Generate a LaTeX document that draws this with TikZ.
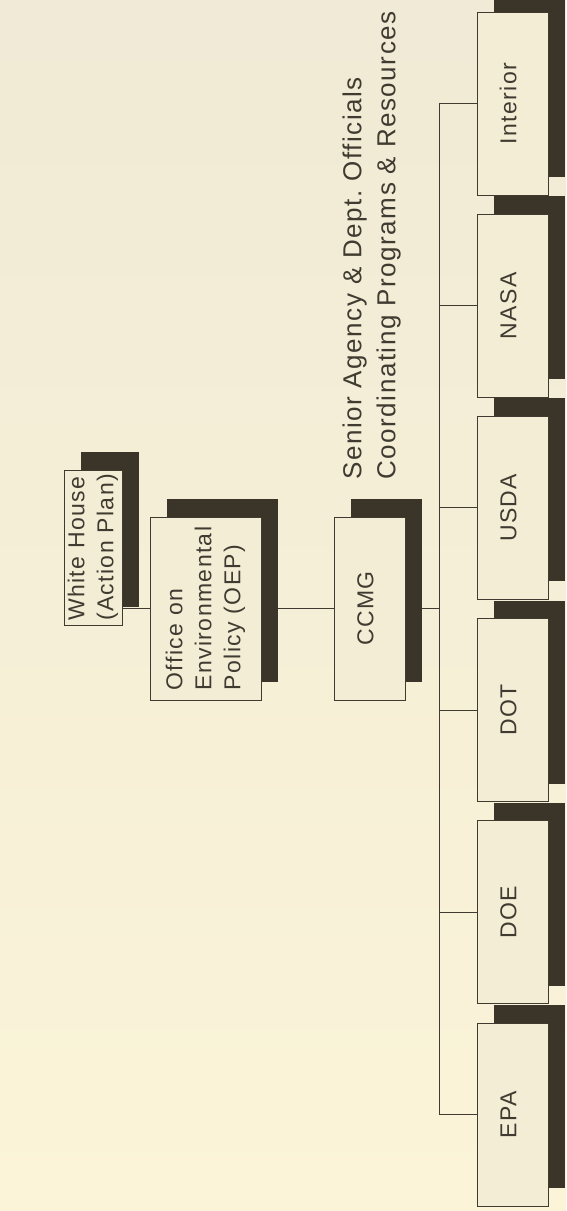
\documentclass[tikz,border=0pt]{standalone}
\usepackage{graphicx}
\usepackage{fontspec}
\setmainfont{Liberation Sans}[LetterSpace=6]
\usetikzlibrary{shadows,backgrounds}
\definecolor{paper}{HTML}{F4EDD6}
\definecolor{papertop}{HTML}{F0EAD6}
\definecolor{paperbottom}{HTML}{FBF4D8}
\definecolor{ink}{HTML}{3F3B31}
\definecolor{shade}{HTML}{3A3429}
% rotated label, nudged a little to the left of the box centre
\newcommand{\turned}[1]{\rotatebox{90}{\begin{tabular}{@{}l@{}}#1\end{tabular}\rule[-12pt]{0pt}{0pt}}}
\tikzset{
  unit/.style={draw=ink,line width=1pt,fill=paper,text=ink,inner sep=0pt,
    minimum width=71pt,minimum height=183pt,font=\fontsize{23}{29}\selectfont,
    drop shadow={shadow xshift=17pt,shadow yshift=18pt,fill=shade,opacity=1}},
  link/.style={draw=ink,line width=1pt}
}
\begin{document}
\begin{tikzpicture}[x=1pt,y=-1pt]
\useasboundingbox (0,0) rectangle (566,1211);
% upper chain
\node[unit,minimum width=54pt,minimum height=155pt] (wh) at (93,547.5)
  {\rotatebox{90}{\begin{tabular}{@{}l@{}}White House\\(Action Plan)\end{tabular}}};
\node[unit,minimum width=111pt] (oep) at (205.5,608.5) {\turned{Office on\\Environmental\\Policy (OEP)}};
\node[unit] (ccmg) at (369.5,608.5) {\turned{CCMG}};
\node[rotate=90,anchor=south west,inner sep=0pt,align=left,text=ink,
  font=\fontsize{26}{34}\selectfont] (officials) at (401,480)
  {Senior Agency \& Dept.\ Officials\\Coordinating Programs \& Resources};
% agencies
\foreach \name/\lbl [count=\i from 0] in {int/Interior,nasa/NASA,usda/USDA,dot/DOT,doe/DOE,epa/EPA}
  \node[unit] (\name) at (512.5,103.5+202.2*\i) {\turned{\lbl}};
\begin{scope}[on background layer]
\shade[top color=papertop,bottom color=paperbottom] (0,0) rectangle (566,1211);
\coordinate (bus) at ([xshift=-37pt]int.west);
\draw[link] (wh.east |- oep) -- (oep) -- (ccmg) -- (bus |- ccmg);
\draw[link] (int) -- (bus) |- (epa);
\foreach \name in {nasa,usda,dot,doe}
  \draw[link] (bus |- \name) -- (\name);
\end{scope}
\end{tikzpicture}
\end{document}
